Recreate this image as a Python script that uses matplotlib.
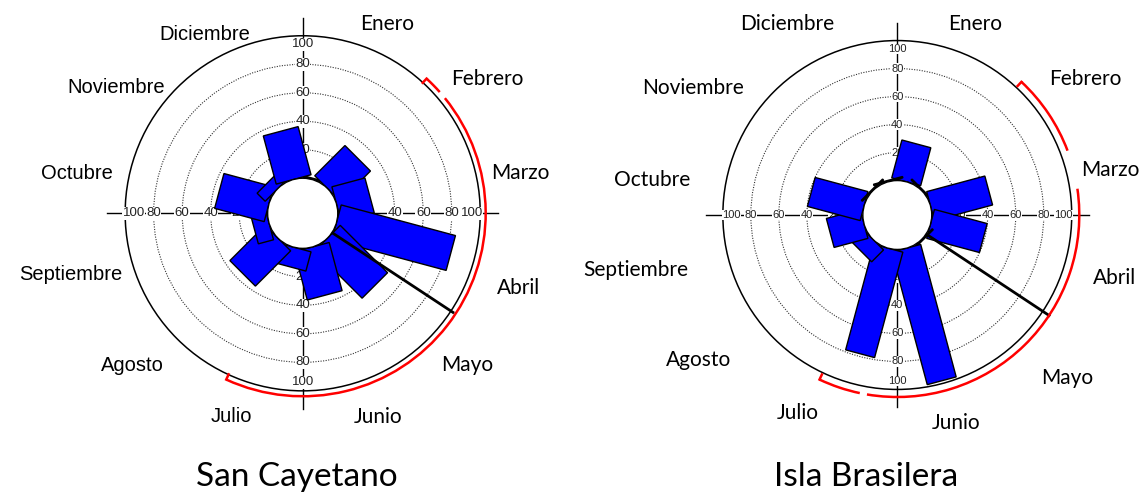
import numpy as np
import matplotlib.pyplot as plt
from matplotlib.patches import Polygon, Circle, Arc

W, H = 1141, 494

meses = ['Enero', 'Febrero', 'Marzo', 'Abril', 'Mayo', 'Junio',
         'Julio', 'Agosto', 'Septiembre', 'Octubre', 'Noviembre', 'Diciembre']
angulos = np.arange(15, 360, 30)  # centro de cada mes, grados desde el norte
ticks = [20, 40, 60, 80, 100]

# frecuencias por mes
san_cayetano = [1, 30, 24, 83, 47, 35, 14, 35, 11, 36, 8, 35]
isla_brasilera = [28, 1, 43, 39, 1, 98, 78, 12, 25, 39, 1, 1]

# vector medio y arco de confianza (grados desde el norte)
media_sc = 123.4
media_ib = 123.5
ic_sc = [(42.6, 48.5), (51.0, 204.7)]
ic_ib = [(43.0, 69.3), (81.7, 189.6), (191.9, 205.3)]

HOLE = 24.6

fig = plt.figure(figsize=(W / 100, H / 100), dpi=100)


def rosa(cx, cy, esc, valores, ancho, media, ic, fs_tick, r_ic, r_media):
    lim = 140
    ax = fig.add_axes([(cx - lim * esc) / W, (H - cy - lim * esc) / H,
                       2 * lim * esc / W, 2 * lim * esc / H])
    ax.set_xlim(-lim, lim)
    ax.set_ylim(-lim, lim)
    ax.set_aspect('equal')
    ax.axis('off')

    # anillos
    for t in ticks[:-1]:
        ax.add_patch(Circle((0, 0), HOLE + t, fill=False, ls=(0, (1, 1.3)),
                            lw=0.8, ec='#333333', zorder=1))
    ax.add_patch(Circle((0, 0), HOLE + 100, fill=False, lw=1.1, ec='k', zorder=1))

    # ejes
    ext = 137
    ax.plot([-ext, ext], [0, 0], color='k', lw=1, zorder=1)
    ax.plot([0, 0], [-ext, ext], color='k', lw=1, zorder=1)
    for t in ticks:
        r = HOLE + t - (6 if t == 100 else 0)
        for x, y in [(0, r), (0, -r), (r, 0), (-r, 0)]:
            ax.text(x, y, str(t), ha='center', va='center', fontsize=fs_tick,
                    color='#222222', family='Liberation Sans', zorder=2,
                    bbox=dict(fc='white', ec='none', pad=0.3))

    # barras rectangulares
    for ang, v in zip(angulos, valores):
        if v <= 0:
            continue
        th = np.radians(ang)
        u = np.array([np.sin(th), np.cos(th)])
        p = np.array([np.cos(th), -np.sin(th)])
        pts = [HOLE * u + ancho / 2 * p, (HOLE + v) * u + ancho / 2 * p,
               (HOLE + v) * u - ancho / 2 * p, HOLE * u - ancho / 2 * p]
        ax.add_patch(Polygon(pts, closed=True, fc='#0000ff', ec='k', lw=1, zorder=3))

    # vector medio
    th = np.radians(media)
    ax.plot([HOLE * np.sin(th), r_media * np.sin(th)],
            [HOLE * np.cos(th), r_media * np.cos(th)], color='k', lw=2, zorder=4)

    # hueco central
    ax.add_patch(Circle((0, 0), HOLE, fc='white', ec='k', lw=1, zorder=5))

    # intervalo de confianza
    for a, b in ic:
        ax.add_patch(Arc((0, 0), 2 * r_ic, 2 * r_ic, theta1=90 - b, theta2=90 - a,
                         color='red', lw=1.8, zorder=4))
    for ang in [ic[0][0], ic[-1][1]]:
        th = np.radians(ang)
        ax.plot([r_ic * np.sin(th), (r_ic - 4) * np.sin(th)],
                [r_ic * np.cos(th), (r_ic - 4) * np.cos(th)],
                color='red', lw=1.8, zorder=4)
    return ax


rosa(302.7, 213.3, 1.425, san_cayetano, 25.3, media_sc, ic_sc, 9.5, 128.4, 126.3)
rosa(897.3, 215.0, 1.40, isla_brasilera, 21.4, media_ib, ic_ib, 8, 130.0, 130.0)

# etiquetas de meses (posiciones en pixeles)
pos_sc = [(387, 24), (487, 79), (520, 173), (519, 288), (467, 365), (378, 417),
          (231, 416), (132, 365), (71, 275), (77, 173), (116, 87), (205, 35)]
pos_ib = [(975, 24), (1085, 79), (1110, 170), (1115, 278), (1067, 378), (956, 423),
          (798, 413), (699, 360), (636, 270), (652, 180), (693, 88), (787, 24)]

for i, (m, (x, y)) in enumerate(zip(meses, pos_sc)):
    fam = 'Lato' if i < 6 else 'Liberation Sans'
    fs = 15 if i < 6 else 14.5
    fig.text(x / W, 1 - y / H, m, ha='center', va='center', fontsize=fs,
             family=fam, color='k')
for m, (x, y) in zip(meses, pos_ib):
    fig.text(x / W, 1 - y / H, m, ha='center', va='center', fontsize=15,
             family='Lato', color='k')

fig.text(297 / W, 1 - 477 / H, 'San Cayetano', ha='center', va='center',
         fontsize=24, family='Lato')
fig.text(866 / W, 1 - 477 / H, 'Isla Brasilera', ha='center', va='center',
         fontsize=24, family='Lato')

fig.savefig('out.png', dpi=100)
